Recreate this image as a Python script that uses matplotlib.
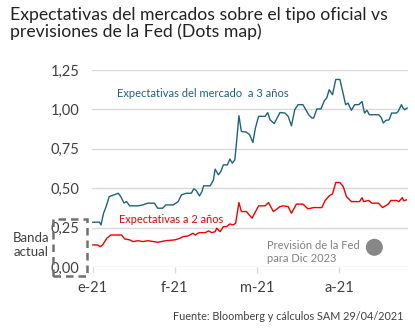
import matplotlib
matplotlib.use("Agg")
import matplotlib.pyplot as plt
from matplotlib.patches import Rectangle

plt.rcParams['font.family'] = ['Lato', 'DejaVu Sans']

# posiciones en meses desde enero 2021 (0 = e-21, 1 = f-21, ...)
x_3a = [0.00, 0.08, 0.10, 0.13, 0.16, 0.20, 0.26, 0.31, 0.34, 0.38, 0.41, 0.45, 0.55,
        0.61, 0.67, 0.75, 0.79, 0.85, 0.89, 0.98, 1.04, 1.08, 1.14, 1.20, 1.23, 1.26,
        1.30, 1.33, 1.35, 1.43, 1.47, 1.49, 1.53, 1.56, 1.59, 1.64, 1.67, 1.70, 1.73,
        1.75, 1.78, 1.81, 1.87, 1.91, 1.95, 1.98, 2.02, 2.10, 2.13, 2.16, 2.21, 2.28,
        2.34, 2.38, 2.42, 2.46, 2.50, 2.56, 2.63, 2.67, 2.69, 2.73, 2.78, 2.82, 2.85,
        2.88, 2.92, 2.96, 3.01, 3.05, 3.08, 3.11, 3.15, 3.19, 3.24, 3.28, 3.31, 3.34,
        3.37, 3.48, 3.51, 3.54, 3.57, 3.61, 3.64, 3.70, 3.72, 3.76, 3.78, 3.80, 3.83]
y_3a = [0.284, 0.285, 0.267, 0.34, 0.38, 0.447, 0.458, 0.468, 0.447, 0.406, 0.415, 0.388,
        0.388, 0.394, 0.405, 0.405, 0.373, 0.373, 0.394, 0.394, 0.415, 0.458, 0.468, 0.468,
        0.496, 0.485, 0.451, 0.479, 0.515, 0.515, 0.553, 0.621, 0.585, 0.606, 0.648, 0.648,
        0.685, 0.659, 0.68, 0.786, 0.96, 0.86, 0.856, 0.84, 0.79, 0.88, 0.956, 0.956, 0.98,
        0.934, 0.91, 0.98, 0.977, 0.956, 0.896, 0.998, 1.03, 1.03, 0.966, 0.945, 0.945,
        1.003, 1.003, 1.055, 1.073, 1.125, 1.093, 1.19, 1.19, 1.10, 1.03, 1.04, 0.994, 1.03,
        1.03, 1.05, 0.977, 0.994, 0.966, 0.966, 0.952, 0.914, 0.93, 0.934, 0.977, 0.977,
        0.987, 1.03, 1.009, 0.998, 1.009]

x_2a = [0.00, 0.06, 0.09, 0.12, 0.17, 0.22, 0.35, 0.39, 0.45, 0.49, 0.55, 0.61, 0.67,
        0.79, 0.89, 1.00, 1.06, 1.10, 1.16, 1.22, 1.25, 1.28, 1.30, 1.37, 1.41, 1.45,
        1.49, 1.51, 1.55, 1.59, 1.63, 1.67, 1.71, 1.74, 1.78, 1.81, 1.87, 1.94, 2.02,
        2.10, 2.14, 2.20, 2.24, 2.28, 2.32, 2.38, 2.42, 2.48, 2.56, 2.62, 2.69, 2.79,
        2.83, 2.88, 2.92, 2.96, 3.01, 3.05, 3.09, 3.15, 3.25, 3.28, 3.30, 3.36, 3.40,
        3.48, 3.53, 3.60, 3.63, 3.70, 3.73, 3.77, 3.79, 3.82]
y_2a = [0.14, 0.14, 0.129, 0.14, 0.182, 0.203, 0.203, 0.178, 0.172, 0.161, 0.167, 0.161,
        0.167, 0.157, 0.167, 0.172, 0.182, 0.193, 0.197, 0.214, 0.203, 0.214, 0.218, 0.218,
        0.229, 0.218, 0.224, 0.246, 0.224, 0.256, 0.256, 0.273, 0.267, 0.278, 0.409, 0.352,
        0.352, 0.31, 0.388, 0.388, 0.409, 0.352, 0.367, 0.383, 0.388, 0.383, 0.341, 0.399,
        0.399, 0.369, 0.377, 0.377, 0.422, 0.451, 0.464, 0.536, 0.536, 0.511, 0.447, 0.415,
        0.415, 0.44, 0.415, 0.422, 0.405, 0.405, 0.377, 0.399, 0.422, 0.422, 0.415, 0.44,
        0.42, 0.426]

# punto de la Fed (mediana dic 2023)
fed_x = 3.43
fed_y = 0.125

meses = [0, 1, 2, 3]
etiquetas_meses = ['e-21', 'f-21', 'm-21', 'a-21']
y_ticks = [0.0, 0.25, 0.5, 0.75, 1.0, 1.25]
y_labels = ['0,00', '0,25', '0,50', '0,75', '1,00', '1,25']

TEAL = '#1d6379'
RED = '#ec0000'
GRIS = '#404040'

fig = plt.figure(figsize=(4.15, 3.34), dpi=100)
ax = fig.add_axes([92 / 415, 1 - 267 / 334, 316 / 415, 197 / 334])

ax.plot(x_3a, y_3a, color=TEAL, lw=1.0, clip_on=False, zorder=3)
ax.plot(x_2a, y_2a, color=RED, lw=1.0, clip_on=False, zorder=3)
ax.scatter([fed_x], [fed_y], s=150, color='#878787', edgecolors='none', zorder=4)

ax.set_xlim(-0.01, 3.84)
ax.set_ylim(0, 1.25)

ax.set_yticks(y_ticks)
ax.set_yticklabels(y_labels)
ax.set_xticks(meses)
ax.set_xticklabels(etiquetas_meses)
ax.grid(axis='y', color='#d9d9d9', lw=1)
ax.set_axisbelow(True)
ax.tick_params(axis='y', length=0, pad=9, labelsize=10.5, labelcolor=GRIS)
ax.tick_params(axis='x', length=4, width=1, color='#d9d9d9', pad=6,
               labelsize=10.5, labelcolor=GRIS)
for s in ['top', 'right', 'left', 'bottom']:
    ax.spines[s].set_visible(False)

ax.text(0.30, 1.10, 'Expectativas del mercado  a 3 años', color=TEAL,
        fontsize=8.0, va='center', ha='left')
ax.text(0.32, 0.30, 'Expectativas a 2 años', color=RED,
        fontsize=7.9, va='center', ha='left')
ax.text(2.12, 0.095, 'Previsión de la Fed\npara Dic 2023', color='#808080',
        fontsize=8.0, va='center', ha='left', linespacing=1.25)

# banda actual del tipo oficial
fig.add_artist(Rectangle((53 / 415, 1 - 276 / 334), 34 / 415, 57 / 334,
                         transform=fig.transFigure, fill=False,
                         edgecolor='#707070', lw=1.8, ls=(0, (3, 2))))
fig.text(31 / 415, 1 - 245 / 334, 'Banda\nactual', color=GRIS, fontsize=9.5,
         ha='center', va='center', linespacing=1.3)

fig.text(10 / 415, 1 - 7 / 334, 'Expectativas del mercados sobre el tipo oficial vs\n'
         'previsiones de la Fed (Dots map)', color='#222222', fontsize=12.7,
         ha='left', va='top', linespacing=1.05)
fig.text(403 / 415, 1 - 317 / 334, 'Fuente: Bloomberg y cálculos SAM 29/04/2021',
         color=GRIS, fontsize=7.8, ha='right', va='center')

fig.savefig('out.png', dpi=100, facecolor='white')
